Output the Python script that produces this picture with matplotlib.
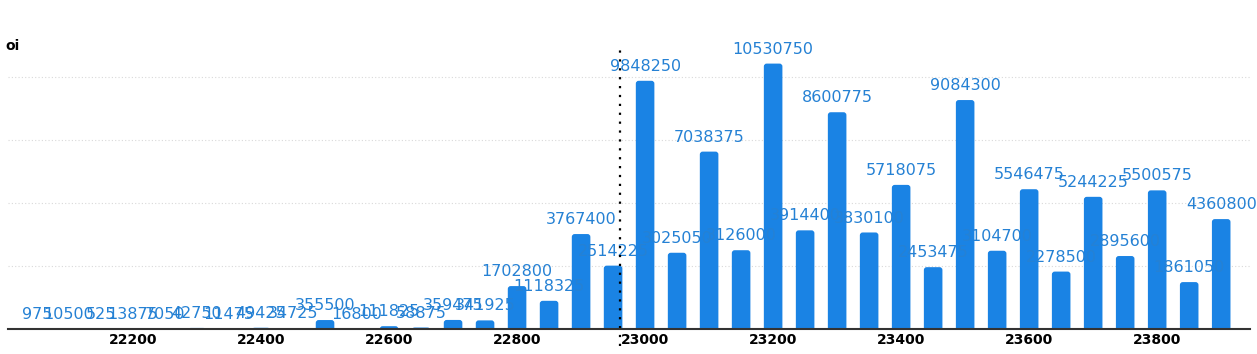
import numpy as np
import matplotlib.pyplot as plt
from matplotlib.patches import FancyBboxPatch

# strike prices and open interest
strikes = [22050, 22100, 22150, 22200, 22250, 22300, 22350, 22400, 22450, 22500,
           22550, 22600, 22650, 22700, 22750, 22800, 22850, 22900, 22950, 23000,
           23050, 23100, 23150, 23200, 23250, 23300, 23350, 23400, 23450, 23500,
           23550, 23600, 23650, 23700, 23750, 23800, 23850, 23900]
oi = [975, 10500, 525, 13875, 7050, 42750, 11475, 49425, 34725, 355500,
      16800, 111825, 58875, 359475, 341925, 1702800, 1118325, 3767400, 2514225, 9848250,
      3025050, 7038375, 3126000, 10530750, 3914400, 8600775, 3830100, 5718075, 2453475, 9084300,
      3104700, 5546475, 2278500, 5244225, 2895600, 5500575, 1861050, 4360800]
xticks = [22200, 22400, 22600, 22800, 23000, 23200, 23400, 23600, 23800]
spot = 22961

bar_color = '#1a83e4'
label_color = '#2581d4'

fig = plt.figure(figsize=(12.57, 3.54), dpi=100)
ax = fig.add_axes([8/1257, 25/354, 1242/1257, 279/354])
ax.set_xlim(22004.7, 23945)
ax.set_ylim(0, 11.07e6)

# rounded bars
w = 29
r = 4.5
asp = 25000
for s, v in zip(strikes, oi):
    p = FancyBboxPatch((s - w/2, -r*asp), w, v + r*asp,
                       boxstyle="round,pad=0,rounding_size=%g" % r,
                       mutation_aspect=asp, facecolor=bar_color,
                       edgecolor='none', zorder=3)
    ax.add_patch(p)
    ax.annotate(str(v), (s, v), xytext=(0, 5), textcoords='offset points',
                ha='center', va='bottom', fontsize=11.5, color=label_color,
                zorder=4)

# grid
for g in [2.5e6, 5e6, 7.5e6, 10e6]:
    ax.axhline(g, color='#d9d9d9', lw=0.8, ls=(0, (1, 2)), zorder=1)

ax.axvline(spot, ymin=-0.06, ymax=1, color='black', lw=1.6,
           ls=(0, (1, 3)), clip_on=False, zorder=5)

for sp in ['top', 'right', 'left']:
    ax.spines[sp].set_visible(False)
ax.spines['bottom'].set_color('#333333')
ax.spines['bottom'].set_linewidth(1.5)
ax.spines['bottom'].set_zorder(6)
ax.set_yticks([])
ax.set_xticks(xticks)
ax.set_xticklabels([str(t) for t in xticks], fontweight='bold', fontsize=10)
ax.tick_params(axis='x', length=0, pad=3)

fig.text(5/1257, 1 - 46/354, 'oi', fontweight='bold', fontsize=10,
         ha='left', va='center')

fig.savefig('out.png', dpi=100)
